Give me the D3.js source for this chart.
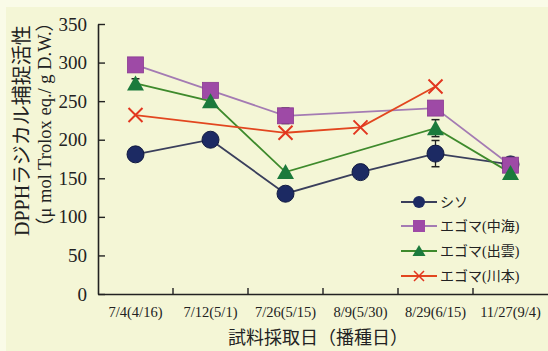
<!DOCTYPE html>
<html>
<head>
<meta charset="utf-8">
<script src="https://cdn.jsdelivr.net/npm/d3@7"></script>
<style>
  body { margin: 0; background: #f4f6d6; }
  svg { display: block; }
  text { font-family: "Liberation Serif", "Noto Sans CJK JP", serif; fill: #222; }
</style>
</head>
<body>
<svg id="chart" width="548" height="351"></svg>
<script>
// categories (sampling date, sowing date)
const categories = ["7/4(4/16)", "7/12(5/1)", "7/26(5/15)", "8/9(5/30)", "8/29(6/15)", "11/27(9/4)"]
const yTicks = [0, 50, 100, 150, 200, 250, 300, 350]

// series values, null = not measured
const shiso      = [181, 200, 130, 158, 182, 168]
const egomaNaka  = [297, 264, 231, null, 241, 167]
const egomaIzumo = [273, 250, 158, null, 215, 157]
const egomaKawa  = [232, null, 209, 216, 269, null]

// error bars (half length)
const shisoErr      = [0, 0, 0, 0, 17, 0]
const egomaNakaErr  = [4, 0, 10, 0, 0, 0]
const egomaIzumoErr = [6, 5, 0, 0, 11, 0]

const series = [
    {name: "シソ",        values: shiso,      err: shisoErr,      line: "#3a3f5c", fill: "#1c2a63", shape: "circle"},
    {name: "エゴマ(中海)", values: egomaNaka,  err: egomaNakaErr,  line: "#a47bb3", fill: "#9e4aa6", shape: "square"},
    {name: "エゴマ(出雲)", values: egomaIzumo, err: egomaIzumoErr, line: "#3e8a2c", fill: "#1b7a3c", shape: "triangle"},
    {name: "エゴマ(川本)", values: egomaKawa,  err: null,          line: "#e2461f", fill: "#e2361f", shape: "cross"}
]

const svg = d3.select("#chart")
const W = 548, H = 351
const mLeft = 98, mRight = 548, mTop = 24, mBottom = 294

svg.append("rect").attr("width", W).attr("height", H).attr("fill", "#f4f6d6")
// lighter paper strip on top / left
svg.append("rect").attr("width", W).attr("height", 7).attr("fill", "#fafbe8")
svg.append("rect").attr("width", 6).attr("height", H).attr("fill", "#fafbe8")

const x = d3.scaleBand().domain(categories).range([mLeft, mRight])
const y = d3.scaleLinear().domain([0, 350]).range([mBottom, mTop])
const cx = c => x(c) + x.bandwidth() / 2

// y axis
const yAxis = svg.append("g")
    .attr("transform", `translate(${mLeft},0)`)
    .call(d3.axisLeft(y).tickValues(yTicks).tickSize(-7).tickPadding(11).tickSizeOuter(0))
yAxis.select(".domain").attr("stroke", "#222").attr("stroke-width", 1.6)
yAxis.selectAll(".tick line").attr("stroke", "#222").attr("stroke-width", 1.4)
yAxis.selectAll(".tick text").attr("font-size", 19).attr("fill", "#222")
    .attr("font-family", "Liberation Serif")

// x axis (labels centered in bands, ticks at band borders)
const xAxis = svg.append("g")
    .attr("transform", `translate(0,${mBottom})`)
    .call(d3.axisBottom(x).tickSize(0).tickPadding(13).tickSizeOuter(0))
xAxis.select(".domain").attr("stroke", "#222").attr("stroke-width", 1.6)
xAxis.selectAll(".tick text").attr("font-size", 14.5).attr("fill", "#222")
    .attr("font-family", "Liberation Serif")
svg.append("g").selectAll("line")
    .data(categories.slice(1))
    .join("line")
    .attr("x1", d => x(d)).attr("x2", d => x(d))
    .attr("y1", mBottom).attr("y2", mBottom - 6)
    .attr("stroke", "#222").attr("stroke-width", 1.4)

// axis titles
svg.append("text")
    .attr("x", 318).attr("y", 344)
    .attr("text-anchor", "middle")
    .attr("font-size", 18)
    .attr("font-family", "Noto Sans CJK JP")
    .text("試料採取日（播種日）")

const yt = svg.append("text")
    .attr("transform", "translate(0,236) rotate(-90)")
    .attr("font-size", 20)
yt.append("tspan").attr("x", 0).attr("y", 29).text("DPPHラジカル捕捉活性")
yt.append("tspan").attr("x", 0).attr("y", 51).attr("font-size", 18.5).text("（μ mol Trolox eq./ g D.W.）")

function marker(g, shape, s) {
    if (shape == "circle") {
        g.append("circle").attr("r", 8.5).attr("fill", s.fill)
            .attr("stroke", "#111a40").attr("stroke-width", 1)
    } else if (shape == "square") {
        g.append("rect").attr("x", -8).attr("y", -8).attr("width", 16).attr("height", 16)
            .attr("fill", s.fill).attr("stroke", "#8a3a92").attr("stroke-width", 0.8)
    } else if (shape == "triangle") {
        g.append("path").attr("d", "M0,-8L8.5,7L-8.5,7Z").attr("fill", s.fill)
    } else {
        g.append("path").attr("d", "M-7,-7L7,7M-7,7L7,-7")
            .attr("stroke", s.fill).attr("stroke-width", 2).attr("fill", "none")
    }
}

const lineGen = d3.line().x(d => cx(d.c)).y(d => y(d.v))

series.forEach(s => {
    const pts = categories.map((c, i) => ({c: c, v: s.values[i], e: s.err ? s.err[i] : 0}))
        .filter(d => d.v != null)
    const g = svg.append("g")
    g.append("path").datum(pts)
        .attr("d", lineGen)
        .attr("fill", "none")
        .attr("stroke", s.line)
        .attr("stroke-width", 1.8)
    // error bars
    pts.filter(d => d.e > 0).forEach(d => {
        const px = cx(d.c)
        g.append("line").attr("x1", px).attr("x2", px)
            .attr("y1", y(d.v - d.e)).attr("y2", y(d.v + d.e))
            .attr("stroke", "#222").attr("stroke-width", 1.3)
        ;[d.v - d.e, d.v + d.e].forEach(v => {
            g.append("line").attr("x1", px - 4).attr("x2", px + 4)
                .attr("y1", y(v)).attr("y2", y(v))
                .attr("stroke", "#222").attr("stroke-width", 1.5)
        })
    })
})

// markers on top
series.forEach(s => {
    categories.forEach((c, i) => {
        if (s.values[i] == null) return
        const g = svg.append("g").attr("transform", `translate(${cx(c)},${y(s.values[i])})`)
        marker(g, s.shape, s)
    })
})

// legend
const legY = [202, 226, 251, 276]
series.forEach((s, i) => {
    const lg = svg.append("g").attr("transform", `translate(401,${legY[i]})`)
    lg.append("line").attr("x1", 0).attr("x2", 36).attr("stroke", s.line).attr("stroke-width", 1.8)
    const mg = lg.append("g").attr("transform", "translate(18,0)")
    if (s.shape == "circle") {
        mg.append("circle").attr("r", 6).attr("fill", s.fill)
    } else if (s.shape == "square") {
        mg.append("rect").attr("x", -6).attr("y", -6).attr("width", 12).attr("height", 12).attr("fill", s.fill)
    } else if (s.shape == "triangle") {
        mg.append("path").attr("d", "M0,-6L6.5,5L-6.5,5Z").attr("fill", s.fill)
    } else {
        mg.append("path").attr("d", "M-5,-5L5,5M-5,5L5,-5").attr("stroke", s.fill).attr("stroke-width", 1.5)
    }
    lg.append("text").attr("x", 39).attr("y", 5)
        .attr("font-size", 14)
        .attr("font-family", "Noto Sans CJK JP")
        .attr("fill", "#333")
        .text(s.name)
})
</script>
</body>
</html>
